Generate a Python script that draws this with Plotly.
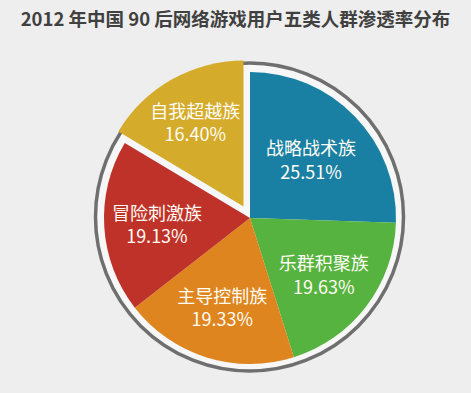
import plotly.graph_objects as go

labels = ["战略战术族", "乐群积聚族", "主导控制族", "冒险刺激族", "自我超越族"]
values = [25.51, 19.63, 19.33, 19.13, 16.40]
colors = ["#1a80a3", "#57b33f", "#de851f", "#bf3229", "#d4ab2b"]
pulls = [0, 0, 0, 0, 0.09]

W, H = 471, 393
cx, cy, r = 250, 218, 146
maxpull = max(pulls)
R = r * (1 + maxpull)

fig = go.Figure(go.Pie(
    labels=labels,
    values=values,
    sort=False,
    direction="clockwise",
    rotation=0,
    pull=pulls,
    marker=dict(colors=colors, line=dict(width=0)),
    texttemplate="%{label}<br>%{value:.2f}%",
    textposition="inside",
    insidetextorientation="horizontal",
    textfont=dict(family="Noto Sans CJK SC", size=18, color="#fffdf5"),
    showlegend=False,
    hoverinfo="label+value",
    domain=dict(x=[(cx - R) / W, (cx + R) / W], y=[1 - (cy + R) / H, 1 - (cy - R) / H]),
))

rcx, rcy, rr = 249.5, 217, 154
fig.add_shape(type="circle", xref="paper", yref="paper", layer="below",
              x0=(rcx - rr) / W, x1=(rcx + rr) / W,
              y0=1 - (rcy + rr) / H, y1=1 - (rcy - rr) / H,
              line=dict(color="#6f6f6f", width=3.5), fillcolor="#f7f7f7")

fig.update_layout(
    width=W, height=H,
    margin=dict(l=0, r=0, t=0, b=0),
    paper_bgcolor="#eeeeee",
    plot_bgcolor="#eeeeee",
    title=dict(text="<b>2012 年中国 90 后网络游戏用户五类人群渗透率分布</b>",
               x=0.5, xanchor="center", y=1 - 20 / H, yanchor="middle",
               font=dict(family="Noto Sans CJK SC", size=18.5, color="#404040")),
    uniformtext=dict(minsize=18, mode="show"),
)

fig.write_html("out.html",
               config={"displayModeBar": False},
               post_script="document.body.style.margin='0';document.body.style.overflow='hidden';")
